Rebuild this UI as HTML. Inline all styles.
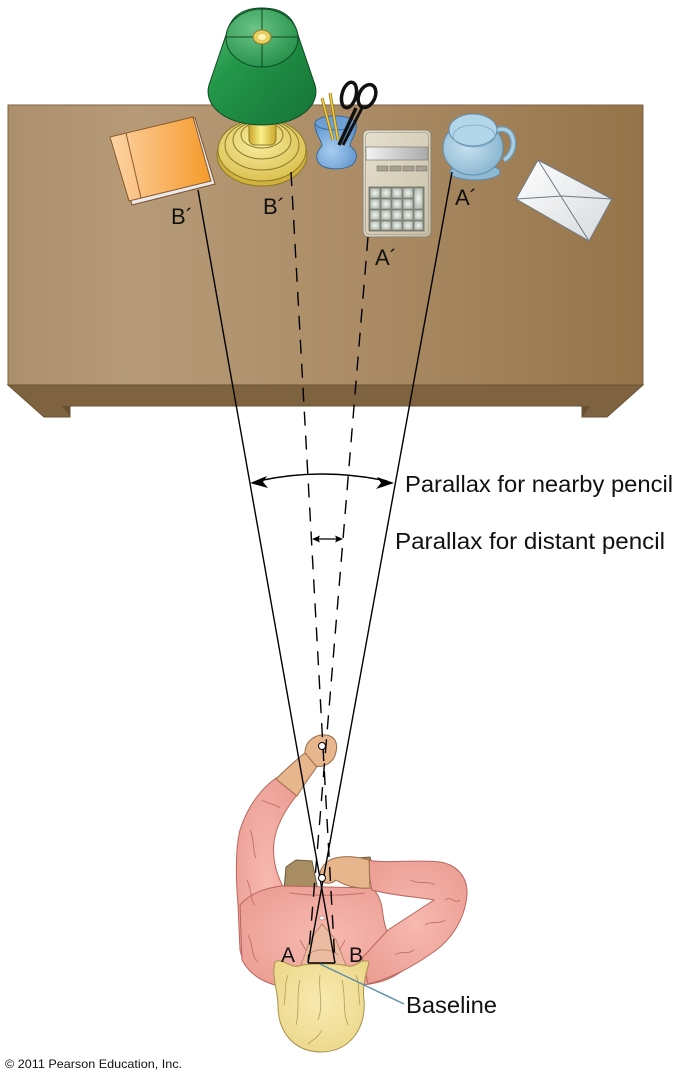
<!DOCTYPE html>
<html>
<head>
<meta charset="utf-8">
<style>
  html,body{margin:0;padding:0;background:#fff;}
  svg{display:block;}
  text{font-family:"Liberation Sans", Arial, sans-serif;fill:#111;}
</style>
</head>
<body>
<svg width="682" height="1080" viewBox="0 0 682 1080" xmlns="http://www.w3.org/2000/svg">
  <defs>
    <linearGradient id="tableTop" x1="0" y1="0" x2="1" y2="0">
      <stop offset="0" stop-color="#ac8f6c"/>
      <stop offset="0.2" stop-color="#b79a78"/>
      <stop offset="0.55" stop-color="#ab8c66"/>
      <stop offset="1" stop-color="#96744a"/>
    </linearGradient>
    <linearGradient id="bookG" x1="0" y1="0" x2="1" y2="0">
      <stop offset="0" stop-color="#fdd3a6"/>
      <stop offset="1" stop-color="#f59a2a"/>
    </linearGradient>
    <linearGradient id="shadeG" x1="0" y1="0" x2="1" y2="1">
      <stop offset="0" stop-color="#5cc07a"/>
      <stop offset="0.35" stop-color="#23974a"/>
      <stop offset="1" stop-color="#157336"/>
    </linearGradient>
    <radialGradient id="shadeTopG" cx="0.4" cy="0.35" r="0.75">
      <stop offset="0" stop-color="#6cc487"/>
      <stop offset="1" stop-color="#1f8c45"/>
    </radialGradient>
    <radialGradient id="goldG" cx="0.45" cy="0.4" r="0.7">
      <stop offset="0" stop-color="#f7eca0"/>
      <stop offset="1" stop-color="#d7bb45"/>
    </radialGradient>
    <linearGradient id="stemG" x1="0" y1="0" x2="1" y2="0">
      <stop offset="0" stop-color="#c9a62a"/>
      <stop offset="0.45" stop-color="#fbf08a"/>
      <stop offset="1" stop-color="#c9a62a"/>
    </linearGradient>
    <radialGradient id="cupG" cx="0.4" cy="0.6" r="0.7">
      <stop offset="0" stop-color="#a8cdf0"/>
      <stop offset="1" stop-color="#5b91cc"/>
    </radialGradient>
    <linearGradient id="calcG" x1="0" y1="0" x2="1" y2="1">
      <stop offset="0" stop-color="#e6e0cf"/>
      <stop offset="1" stop-color="#c9c0a8"/>
    </linearGradient>
    <linearGradient id="dispG" x1="0" y1="0" x2="1" y2="0">
      <stop offset="0" stop-color="#f3f3f3"/>
      <stop offset="1" stop-color="#a9a9a9"/>
    </linearGradient>
    <radialGradient id="keyG" cx="0.5" cy="0.5" r="0.6">
      <stop offset="0" stop-color="#f2f4f0"/>
      <stop offset="1" stop-color="#a9b4ac"/>
    </radialGradient>
    <radialGradient id="jugG" cx="0.4" cy="0.45" r="0.65">
      <stop offset="0" stop-color="#c9e2f0"/>
      <stop offset="1" stop-color="#86b3cf"/>
    </radialGradient>
    <linearGradient id="envG" x1="0" y1="0" x2="1" y2="1">
      <stop offset="0" stop-color="#ffffff"/>
      <stop offset="1" stop-color="#d6dade"/>
    </linearGradient>
    <radialGradient id="shirtG" cx="0.5" cy="0.5" r="0.7">
      <stop offset="0" stop-color="#f7b9b0"/>
      <stop offset="1" stop-color="#ea9a90"/>
    </radialGradient>
    <radialGradient id="hairG" cx="0.5" cy="0.45" r="0.6">
      <stop offset="0" stop-color="#f8eab0"/>
      <stop offset="1" stop-color="#ecd88c"/>
    </radialGradient>
  </defs>

  <rect width="682" height="1080" fill="#fff"/>

  <!-- TABLE -->
  <rect x="8" y="105" width="635" height="280" fill="url(#tableTop)" stroke="#7d6242" stroke-width="1"/>
  <polygon points="8,385 643,385 607,417 582,417 582,406 70,406 70,417 44,417" fill="#7f6240" stroke="#6a5033" stroke-width="1"/>
  <polygon points="62,406 70,406 70,417" fill="#6a5033"/>
  <polygon points="582,406 590,406 582,417" fill="#6a5033"/>

  <!-- BOOK -->
  <polygon points="195,118 215,184 132,205 112,140" fill="#e9e9ee" stroke="#7a5228" stroke-width="1"/>
  <polygon points="110,137 193,117 211,181 129,201" fill="url(#bookG)" stroke="#8a5a2a" stroke-width="1"/>
  <line x1="126" y1="133" x2="141" y2="198" stroke="#8a5a2a" stroke-width="1"/>

  <!-- LAMP BASE -->
  <ellipse cx="262" cy="155" rx="45" ry="31" fill="#d1b23c" stroke="#8c7a2a" stroke-width="1"/>
  <ellipse cx="262" cy="150" rx="44" ry="31" fill="url(#goldG)" stroke="#8c7a2a" stroke-width="1"/>
  <ellipse cx="262" cy="145" rx="37" ry="25" fill="none" stroke="#8c7a2a" stroke-width="1"/>
  <ellipse cx="262" cy="140" rx="29" ry="19" fill="none" stroke="#8c7a2a" stroke-width="1"/>
  <ellipse cx="262" cy="135" rx="21" ry="13" fill="none" stroke="#8c7a2a" stroke-width="1"/>
  <rect x="249" y="112" width="27" height="33" rx="6" fill="url(#stemG)" stroke="#8c7a2a" stroke-width="1"/>

  <!-- LAMP SHADE -->
  <path d="M262,8 C240,8 230,18 226,35 L209,85 C203,106 226,125 262,125 C298,125 321,106 315,85 L298,35 C294,18 284,8 262,8 Z" fill="url(#shadeG)" stroke="#0e4a22" stroke-width="1"/>
  <ellipse cx="262" cy="38" rx="36" ry="29" fill="url(#shadeTopG)" stroke="#0e4a22" stroke-width="1"/>
  <line x1="262" y1="9" x2="262" y2="67" stroke="#0e4a22" stroke-width="1"/>
  <line x1="226" y1="37" x2="298" y2="37" stroke="#0e4a22" stroke-width="1"/>
  <ellipse cx="262" cy="37" rx="9" ry="7" fill="#e6d060" stroke="#8c7a2a" stroke-width="1"/>
  <ellipse cx="262" cy="37" rx="4" ry="3" fill="#fbf3b8"/>

  <!-- PENCIL CUP -->
  <path d="M315,123 C314,133 322,140 322,146 C316,152 314,160 322,166 C330,170 344,170 352,165 C360,158 356,150 350,146 C350,140 358,133 356,123 Z" fill="url(#cupG)" stroke="#3a6a9a" stroke-width="1"/>
  <ellipse cx="335" cy="123" rx="20" ry="7" fill="#6d9fd4" stroke="#3a6a9a" stroke-width="1"/>
  <line x1="322" y1="98" x2="333" y2="140" stroke="#8a7020" stroke-width="3"/>
  <line x1="322" y1="98" x2="333" y2="140" stroke="#f2d040" stroke-width="1.6"/>
  <line x1="330" y1="93" x2="338" y2="140" stroke="#8a7020" stroke-width="3"/>
  <line x1="330" y1="93" x2="338" y2="140" stroke="#f2d040" stroke-width="1.6"/>
  <!-- SCISSORS -->
  <line x1="356" y1="108" x2="339" y2="145" stroke="#111" stroke-width="3.5"/>
  <line x1="362" y1="108" x2="343" y2="145" stroke="#111" stroke-width="3"/>
  <ellipse cx="349" cy="95" rx="7" ry="13" transform="rotate(15 349 95)" fill="none" stroke="#111" stroke-width="3.5"/>
  <ellipse cx="367" cy="96" rx="8" ry="12" transform="rotate(25 367 96)" fill="none" stroke="#111" stroke-width="3.5"/>

  <!-- CALCULATOR -->
  <rect x="363" y="130" width="68" height="107" rx="5" fill="url(#calcG)" stroke="#8a8270" stroke-width="1"/>
  <rect x="365.5" y="132.5" width="63" height="102" rx="4" fill="none" stroke="#aaa290" stroke-width="0.8"/>
  <rect x="366" y="147" width="62" height="13" fill="url(#dispG)" stroke="#8a8270" stroke-width="0.8"/>
  <g fill="#a6a090" stroke="#7a7464" stroke-width="0.6">
    <rect x="377" y="166" width="11" height="5"/>
    <rect x="390" y="166" width="11" height="5"/>
    <rect x="403" y="166" width="11" height="5"/>
    <rect x="416" y="166" width="11" height="5"/>
  </g>
  <rect x="369" y="187" width="55" height="44" fill="#8f9588" stroke="#6e6e5e" stroke-width="0.8"/>
  <g fill="url(#keyG)" stroke="#6e6e5e" stroke-width="0.5">
    <rect x="370" y="188" width="10" height="10"/><rect x="381" y="188" width="10" height="10"/><rect x="392" y="188" width="10" height="10"/><rect x="403" y="188" width="10" height="10"/><rect x="414" y="188" width="9" height="21"/>
    <rect x="370" y="199" width="10" height="10"/><rect x="381" y="199" width="10" height="10"/><rect x="392" y="199" width="10" height="10"/><rect x="403" y="199" width="10" height="10"/>
    <rect x="370" y="210" width="10" height="10"/><rect x="381" y="210" width="10" height="10"/><rect x="392" y="210" width="10" height="10"/><rect x="403" y="210" width="10" height="10"/><rect x="414" y="210" width="9" height="10"/>
    <rect x="370" y="221" width="10" height="9"/><rect x="381" y="221" width="10" height="9"/><rect x="392" y="221" width="10" height="9"/><rect x="403" y="221" width="10" height="9"/><rect x="414" y="221" width="9" height="9"/>
  </g>

  <!-- JUG -->
  <path d="M497,130 C514,124 520,150 504,160" fill="none" stroke="#6a9ab8" stroke-width="6"/>
  <path d="M497,130 C514,124 520,150 504,160" fill="none" stroke="#a9cde3" stroke-width="3.5"/>
  <ellipse cx="475" cy="172" rx="25" ry="8" fill="#8fb9d3" stroke="#5f8fae" stroke-width="1"/>
  <ellipse cx="473" cy="148" rx="30" ry="27" fill="url(#jugG)" stroke="#5f8fae" stroke-width="1"/>
  <ellipse cx="473" cy="130" rx="24" ry="16" fill="#b3d5ea" stroke="#5f8fae" stroke-width="1"/>
  <ellipse cx="474" cy="136" rx="21" ry="11" fill="none" stroke="#7aa6c2" stroke-width="0.8"/>

  <!-- ENVELOPE -->
  <polygon points="538,160 612,199 589,241 516,199" fill="url(#envG)" stroke="#6f7880" stroke-width="1"/>
  <polyline points="538,160 562,198 589,241" fill="none" stroke="#6f7880" stroke-width="1"/>
  <polyline points="516,199 562,196 612,199" fill="none" stroke="#6f7880" stroke-width="1"/>

  <!-- TABLE LABELS -->
  <text x="171" y="224" font-size="22">B´</text>
  <text x="263" y="214" font-size="22">B´</text>
  <text x="375" y="265" font-size="22">A´</text>
  <text x="455" y="205" font-size="22">A´</text>

  <!-- PERSON -->
  <!-- chair -->
  <polygon points="284,890 286,867 296,860 312,861 318,890" fill="#a88c62" stroke="#6e5a3a" stroke-width="1"/>
  <polygon points="352,868 358,858 370,857 374,870" fill="#a88c62" stroke="#6e5a3a" stroke-width="1"/>
  <!-- left (raised) arm sleeve -->
  <path d="M276,778 C262,788 248,805 240,830 C235,850 236,880 238,905 L240,950 C244,968 258,980 275,985 L292,960 L286,892 C277,877 272,860 274,842 C276,826 285,810 297,795 Z" fill="url(#shirtG)" stroke="#b8665e" stroke-width="1"/>
  <!-- torso -->
  <path d="M282,886 L372,888 C380,895 382,905 383,915 C385,930 390,940 395,948 L410,965 C395,978 380,984 360,985 L285,987 C265,984 250,975 242,960 L240,905 C250,893 265,888 282,886 Z" fill="url(#shirtG)" stroke="#b8665e" stroke-width="1"/>
  <!-- right arm -->
  <path d="M366,860 C390,864 420,859 440,862 C458,865 468,878 467,895 C465,918 452,940 432,953 C412,967 392,978 368,984 L362,958 L388,930 L434,900 C418,897 395,896 372,890 Z" fill="url(#shirtG)" stroke="#b8665e" stroke-width="1"/>
  <!-- fold lines -->
  <g fill="none" stroke="#c0736b" stroke-width="0.9">
    <path d="M250,830 C255,840 252,850 256,858"/>
    <path d="M247,880 C252,890 250,900 255,905"/>
    <path d="M262,800 C270,805 274,803 280,808"/>
    <path d="M248,935 C254,945 250,955 258,962"/>
    <path d="M410,880 C420,885 428,880 435,885"/>
    <path d="M445,900 C452,895 455,905 460,900"/>
    <path d="M425,925 C432,920 438,925 445,920"/>
    <path d="M395,955 C402,950 408,955 414,950"/>
    <path d="M290,893 C310,896 340,896 365,893"/>
    <path d="M300,940 C305,950 310,955 312,960"/>
    <path d="M345,940 C340,950 336,955 334,960"/>
  </g>
  <ellipse cx="322" cy="918" rx="3" ry="2" fill="#fff" stroke="#b8665e" stroke-width="0.6"/>
  <!-- face / neck skin -->
  <path d="M300,968 L310,940 L322,924 L336,940 L347,968 Z" fill="#ecbca2" stroke="#b07a62" stroke-width="0.8"/>
  <path d="M308,955 C315,948 330,948 338,955" fill="none" stroke="#b07a62" stroke-width="0.8"/>
  <!-- hair -->
  <path d="M275,962 C281,957 290,968 298,966 C310,963 335,963 348,966 C356,968 362,957 369,962 C366,975 362,986 364,1000 C366,1026 352,1051 322,1052 C292,1052 278,1030 278,1006 C278,990 271,976 275,962 Z" fill="url(#hairG)" stroke="#a8904a" stroke-width="1"/>
  <g fill="none" stroke="#b59c55" stroke-width="0.8">
    <path d="M320,975 C318,990 324,1005 318,1020"/>
    <path d="M300,980 C296,995 300,1010 296,1025"/>
    <path d="M342,980 C346,995 342,1010 348,1025"/>
    <path d="M322,1030 C318,1038 312,1040 308,1044"/>
    <path d="M288,975 C284,985 286,995 284,1005"/>
    <path d="M356,975 C360,985 358,995 360,1005"/>
  </g>
  <!-- raised forearm + hand -->
  <path d="M276,779 C285,770 296,760 306,752 L319,764 C311,775 303,786 297,796 Z" fill="#e8b68c" stroke="#9a6a4a" stroke-width="1"/>
  <path d="M305,753 C305,741 315,734 326,735 C335,736 338,743 336,752 C334,762 325,768 316,766 Z" fill="#e8b68c" stroke="#9a6a4a" stroke-width="1"/>
  <!-- lower hand -->
  <path d="M369,860 C355,856 340,855 330,860 C322,865 318,872 321,879 C324,885 332,884 336,880 C345,886 358,889 370,888 Z" fill="#e8b68c" stroke="#9a6a4a" stroke-width="1"/>

  <!-- SIGHT LINES -->
  <g stroke="#000" stroke-width="1.4" fill="none">
    <line x1="198" y1="190" x2="335" y2="963"/>
    <line x1="452" y1="172" x2="308" y2="963"/>
    <line x1="308" y1="963" x2="335" y2="963"/>
  </g>
  <g stroke="#000" stroke-width="1.4" fill="none" stroke-dasharray="14 10">
    <line x1="291" y1="172" x2="335" y2="963"/>
    <line x1="368" y1="237" x2="308" y2="963"/>
  </g>
  <!-- pencils -->
  <circle cx="322" cy="746" r="3.5" fill="#fff" stroke="#000" stroke-width="1"/>
  <circle cx="322" cy="878" r="3.5" fill="#fff" stroke="#000" stroke-width="1"/>

  <!-- baseline pointer -->
  <line x1="320" y1="964" x2="404" y2="1004" stroke="#5a8ea8" stroke-width="1.4"/>

  <!-- PARALLAX ARROWS -->
  <path d="M258,481 Q322,467 387,481" fill="none" stroke="#000" stroke-width="1.5"/>
  <path d="M250,483 L267,476 L263,482 L268,488 Z" fill="#000"/>
  <path d="M394,483 L377,477 L381,483 L376,489 Z" fill="#000"/>
  <line x1="315" y1="539" x2="340" y2="539" stroke="#000" stroke-width="1.2"/>
  <path d="M312,539 L320,535.5 L318.5,539 L320,542.5 Z" fill="#000"/>
  <path d="M343,539 L335,535.5 L336.5,539 L335,542.5 Z" fill="#000"/>

  <!-- TEXT LABELS -->
  <text x="405" y="492" font-size="23.5" textLength="268" lengthAdjust="spacingAndGlyphs">Parallax for nearby pencil</text>
  <text x="395" y="549" font-size="23.5" textLength="270" lengthAdjust="spacingAndGlyphs">Parallax for distant pencil</text>
  <text x="281" y="962" font-size="21">A</text>
  <text x="349" y="962" font-size="21">B</text>
  <text x="406" y="1013" font-size="23" textLength="91" lengthAdjust="spacingAndGlyphs">Baseline</text>
  <text x="5" y="1068" font-size="12" textLength="177" lengthAdjust="spacingAndGlyphs">© 2011 Pearson Education, Inc.</text>
</svg>
</body>
</html>
